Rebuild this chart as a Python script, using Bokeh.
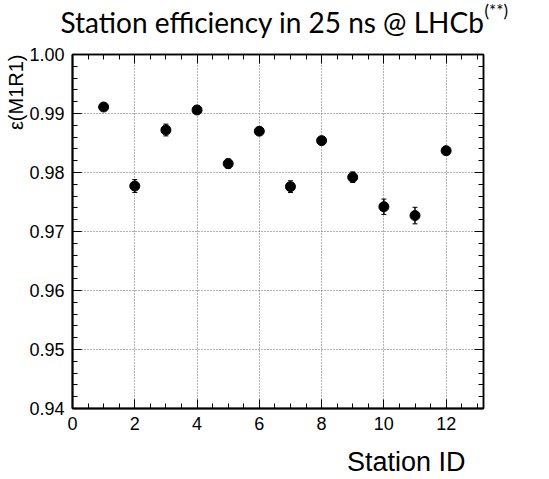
from bokeh.plotting import figure
from bokeh.layouts import column
from bokeh.models import (ColumnDataSource, FixedTicker, LinearAxis, Title, Whisker, Label,
                          TeeHead, Range1d, PrintfTickFormatter)
from bokeh.embed import file_html
from bokeh.resources import INLINE

# ---- data ----
station_id = [1, 2, 3, 4, 5, 6, 7, 8, 9, 10, 11, 12]
efficiency = [0.9911, 0.9777, 0.9872, 0.9906, 0.9815, 0.9870, 0.9776, 0.9854, 0.9792, 0.9742, 0.9727, 0.9837]
eff_error = [0.0004, 0.0011, 0.0010, 0.0004, 0.0008, 0.0006, 0.0010, 0.0005, 0.0009, 0.0013, 0.0014, 0.0007]
x_major = [0, 2, 4, 6, 8, 10, 12]
x_minor = [i * 0.5 for i in range(0, 27)]
y_major = [0.94, 0.95, 0.96, 0.97, 0.98, 0.99, 1.00]
y_minor = [0.94 + i * 0.002 for i in range(0, 31)]

title_text = "Station efficiency in 25 ns @ LHCb"
title_sup = "(**)"
x_title = "Station ID"
y_title = "\u03b5(M1R1)"

lower = [e - d for e, d in zip(efficiency, eff_error)]
upper = [e + d for e, d in zip(efficiency, eff_error)]
src = ColumnDataSource(dict(x=station_id, y=efficiency, lo=lower, hi=upper))

W = 549
TOP_H, MAIN_H, BOT_H = 44, 396, 39


def no_align(f):
    if "frame_align" in f.properties():
        f.frame_align = False
    return f


def strip(height):
    f = figure(width=W, height=height, output_backend="svg", toolbar_location=None,
               x_range=Range1d(0, 1), y_range=Range1d(0, 1),
               min_border_left=0, min_border_right=0, min_border_top=0, min_border_bottom=0,
               x_axis_location=None, y_axis_location=None)
    f.outline_line_color = None
    f.xgrid.visible = False
    f.ygrid.visible = False
    f.background_fill_color = "white"
    f.border_fill_color = "white"
    return no_align(f)


# ---- title strip ----
top = strip(TOP_H)
top.add_layout(Label(x=60, y=23, x_units="screen", y_units="screen", text=title_text,
                     text_font="Lato", text_font_size="28px", text_color="black",
                     text_align="left", text_baseline="alphabetic"))
top.add_layout(Label(x=484, y=34, x_units="screen", y_units="screen", text=title_sup,
                     text_font="Lato", text_font_size="17px", text_color="black",
                     text_align="left", text_baseline="alphabetic"))

# ---- main plot ----
p = figure(width=W, height=MAIN_H, output_backend="svg", toolbar_location=None,
           x_range=Range1d(0, 13.2), y_range=Range1d(0.94, 1.0),
           min_border_left=72, min_border_right=66, min_border_top=10, min_border_bottom=32,
           x_axis_location=None, y_axis_location=None)
no_align(p)
p.outline_line_color = "black"
p.outline_line_width = 1.5
p.background_fill_color = "white"
p.border_fill_color = "white"

tick_font = "Liberation Sans"


def make_axis(ticks, minor, labels):
    ax = LinearAxis(ticker=FixedTicker(ticks=ticks, minor_ticks=minor))
    ax.major_tick_in = 9
    ax.major_tick_out = 0
    ax.minor_tick_in = 5
    ax.minor_tick_out = 0
    ax.axis_line_color = "black"
    ax.axis_line_width = 2 if labels else 1.5
    ax.major_tick_line_color = "black"
    ax.minor_tick_line_color = "black"
    if labels:
        ax.major_label_text_font = tick_font
        ax.major_label_text_font_size = "18px"
        ax.major_label_text_color = "black"
        ax.major_label_standoff = 8
    else:
        ax.major_label_text_font_size = "0px"
        ax.major_label_text_color = None
        ax.major_label_standoff = 0
    return ax


bx = make_axis(x_major, x_minor, True)
ly = make_axis(y_major, y_minor, True)
ly.formatter = PrintfTickFormatter(format="%.2f")
tx = make_axis(x_major, x_minor, False)
ry = make_axis(y_major, y_minor, False)
p.add_layout(bx, "below")
p.add_layout(ly, "left")
p.add_layout(tx, "above")
p.add_layout(ry, "right")

p.xgrid.ticker = FixedTicker(ticks=x_major)
p.ygrid.ticker = FixedTicker(ticks=y_major)
for g in (p.xgrid, p.ygrid):
    g.grid_line_color = "#666666"
    g.grid_line_dash = "1 2"
    g.grid_line_width = 1

w = Whisker(base="x", lower="lo", upper="hi", source=src, line_color="black", line_width=1.5,
            upper_head=TeeHead(size=5, line_color="black", line_width=1),
            lower_head=TeeHead(size=5, line_color="black", line_width=1))
p.add_layout(w)
p.scatter("x", "y", source=src, size=10, color="black")

p.add_layout(Title(text=y_title, align="right", offset=0, standoff=0,
                   text_font=tick_font, text_font_size="20px", text_font_style="normal",
                   text_color="black"), "left")

# ---- bottom strip ----
bot = strip(BOT_H)
bot.add_layout(Label(x=465, y=18, x_units="screen", y_units="screen", text=x_title,
                     text_font=tick_font, text_font_size="27px", text_color="black",
                     text_align="right", text_baseline="alphabetic"))

layout = column(top, p, bot, spacing=0)
open("out.html", "w").write(file_html(layout, INLINE))
